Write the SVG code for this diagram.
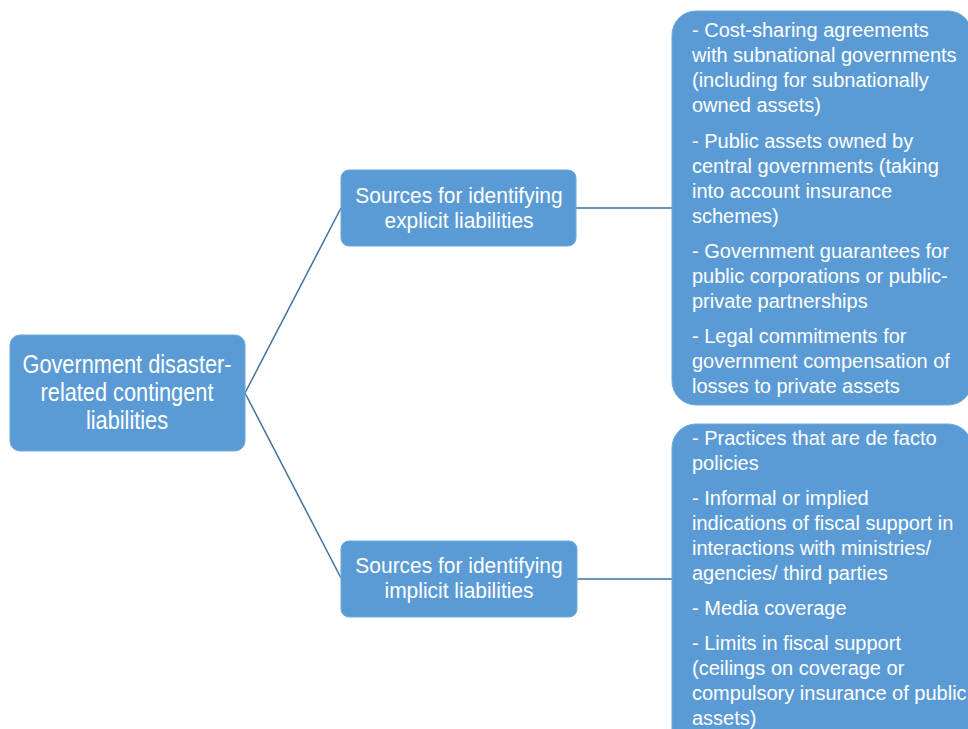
<svg xmlns="http://www.w3.org/2000/svg" width="968" height="729" viewBox="0 0 968 729">
<style>
.box{fill:#5B9BD5;stroke:#6FA8DC;stroke-width:1}
.big{font-family:"Liberation Sans",Arial,sans-serif;font-size:25px;fill:#ffffff;text-anchor:middle}
.mid{font-family:"Liberation Sans",Arial,sans-serif;font-size:22.3px;fill:#ffffff;text-anchor:middle}
.list{font-family:"Liberation Sans",Arial,sans-serif;font-size:20px;fill:#ffffff}
.conn{stroke:#41719C;stroke-width:1.5;fill:none}
</style>
<rect width="968" height="729" fill="#ffffff"/>
<g id="connectors">
<line class="conn" x1="245" y1="393" x2="341" y2="208"/>
<line class="conn" x1="245" y1="393" x2="341" y2="578"/>
<line class="conn" x1="576" y1="208" x2="672" y2="208"/>
<line class="conn" x1="577" y1="579" x2="672" y2="579"/>
</g>
<g id="root">
<rect class="box" x="10" y="335" width="235" height="116" rx="10"/>
<text class="big" transform="translate(127 0) scale(0.87 1)"><tspan x="0" y="373">Government disaster-</tspan><tspan x="0" y="401">related contingent</tspan><tspan x="0" y="429">liabilities</tspan></text>
</g>
<g id="explicit">
<rect class="box" x="341" y="170" width="235" height="76" rx="8"/>
<text class="mid" transform="translate(459 0) scale(0.94 1)"><tspan x="0" y="203">Sources for identifying</tspan><tspan x="0" y="228">explicit liabilities</tspan></text>
</g>
<g id="implicit">
<rect class="box" x="341" y="541" width="236" height="76" rx="8"/>
<text class="mid" transform="translate(459 0) scale(0.94 1)"><tspan x="0" y="573">Sources for identifying</tspan><tspan x="0" y="598">implicit liabilities</tspan></text>
</g>
<g id="explicit-list">
<rect class="box" x="672" y="11" width="300" height="394" rx="24"/>
<text class="list"><tspan x="692" y="37">- Cost-sharing agreements</tspan><tspan x="692" y="62">with subnational governments</tspan><tspan x="692" y="87">(including for subnationally</tspan><tspan x="692" y="112">owned assets)</tspan><tspan x="692" y="148">- Public assets owned by</tspan><tspan x="692" y="173">central governments (taking</tspan><tspan x="692" y="198">into account insurance</tspan><tspan x="692" y="223">schemes)</tspan><tspan x="692" y="258">- Government guarantees for</tspan><tspan x="692" y="283">public corporations or public-</tspan><tspan x="692" y="308">private partnerships</tspan><tspan x="692" y="343">- Legal commitments for</tspan><tspan x="692" y="368">government compensation of</tspan><tspan x="692" y="393">losses to private assets</tspan></text>
</g>
<g id="implicit-list">
<rect class="box" x="672" y="424" width="300" height="340" rx="24"/>
<text class="list"><tspan x="692" y="445">- Practices that are de facto</tspan><tspan x="692" y="470">policies</tspan><tspan x="692" y="505">- Informal or implied</tspan><tspan x="692" y="530">indications of fiscal support in</tspan><tspan x="692" y="555">interactions with ministries/</tspan><tspan x="692" y="580">agencies/ third parties</tspan><tspan x="692" y="615">- Media coverage</tspan><tspan x="692" y="650">- Limits in fiscal support</tspan><tspan x="692" y="675">(ceilings on coverage or</tspan><tspan x="692" y="700">compulsory insurance of public</tspan><tspan x="692" y="725">assets)</tspan></text>
</g>
</svg>
